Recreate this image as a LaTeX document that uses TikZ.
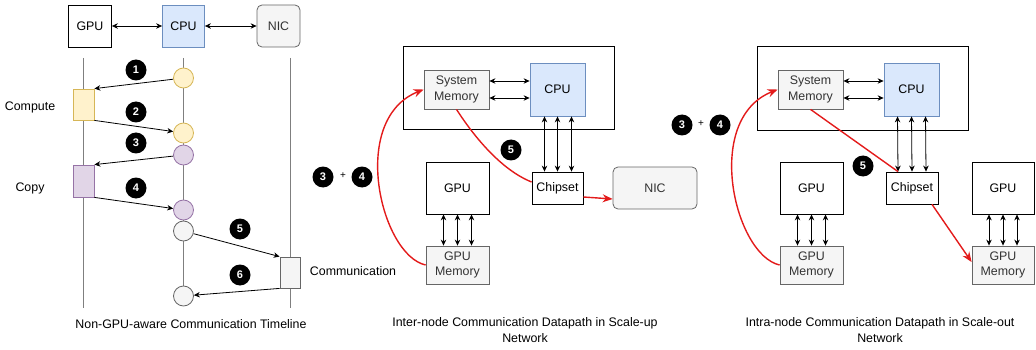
\documentclass[tikz,border=0pt]{standalone}
\usepackage{fontspec}
\setmainfont{Liberation Sans}
\usetikzlibrary{arrows.meta}
\definecolor{cpufill}{HTML}{DAE8FC}
\definecolor{cpuline}{HTML}{6C8EBF}
\definecolor{cmpfill}{HTML}{FFF2CC}
\definecolor{cmpline}{HTML}{D6B656}
\definecolor{cpyfill}{HTML}{E1D5E7}
\definecolor{cpyline}{HTML}{9673A6}
\definecolor{memfill}{HTML}{F5F5F5}
\definecolor{memline}{HTML}{666666}
\definecolor{memtext}{HTML}{333333}
\definecolor{lifecol}{HTML}{7F7F7F}
\definecolor{datapath}{HTML}{E31B1B}

\begin{document}
\begin{tikzpicture}[x=1pt, y=-1pt, line width=0.8pt,
    every node/.style = {font=\fontsize{12.4}{15.5}\selectfont, align=center},
    box/.style = {draw, rectangle, inner sep=0pt},
    cpu/.style = {box, draw=cpuline, fill=cpufill},
    mem/.style = {box, draw=memline, fill=memfill, text=memtext},
    nic/.style = {mem, rounded corners=5pt},
    cmp/.style = {draw=cmpline, fill=cmpfill},
    cpy/.style = {draw=cpyline, fill=cpyfill},
    com/.style = {draw=memline, fill=memfill},
    ev/.style = {draw, circle, minimum size=20pt, inner sep=0pt},
    lane/.style = {draw=lifecol},
    badge/.style = {circle, fill=black, text=white, minimum size=21pt, inner sep=0pt, font=\fontsize{11}{11}\selectfont\bfseries},
    link/.style = {{Stealth[length=6pt,width=5.5pt]}-{Stealth[length=6pt,width=5.5pt]}},
    msg/.style = {-{Stealth[length=6pt,width=5.5pt]}},
    redline/.style = {draw=datapath, line width=1.4pt, -{Stealth[length=10pt,width=8pt]}},
]
    \useasboundingbox (0,0) rectangle (1036,350);

    \node[box, minimum width=43pt, minimum height=42pt] (gpu) at (90,26) {GPU};
    \node[cpu, minimum width=42pt, minimum height=42pt] (cpu) at (183.5,26) {CPU};
    \node[nic, minimum width=43pt, minimum height=42pt] (nic) at (278.5,26) {NIC};
    \draw[link] (gpu) -- (cpu);
    \draw[link] (cpu) -- (nic);

    \coordinate (gpuTop) at (83.5,58);
    \coordinate (gpuEnd) at (83.5,308);
    \coordinate (cpuTop) at (183.5,58);
    \coordinate (cpuEnd) at (183.5,296);
    \coordinate (nicTop) at (290,58);
    \coordinate (nicEnd) at (290,308);
    \draw[lane] (gpuTop) -- (gpuEnd);
    \draw[lane] (cpuTop) -- (cpuEnd);
    \draw[lane] (nicTop) -- (nicEnd);

    \node[ev, cmp] (ev1) at (183.5,78) {};
    \node[ev, cmp] (ev2) at (183.5,133) {};
    \node[ev, cpy] (ev3) at (183.5,155) {};
    \node[ev, cpy] (ev4) at (183.5,210) {};
    \node[ev, com] (ev5) at (183.5,231) {};
    \node[ev, com] (ev6) at (183.5,296) {};
    \node[box, cmp, minimum width=21pt, minimum height=31pt] (compute) at (83.5,104.5) {};
    \node[box, cpy, minimum width=21pt, minimum height=32pt] (copy) at (83.5,181) {};
    \node[box, com, minimum width=20pt, minimum height=31pt] (comm) at (290,272.5) {};
    \node (computeLbl) at (30,107) {Compute};
    \node (copyLbl) at (30,188) {Copy};
    \node (commLbl) at (353,271) {Communication};

    \draw[msg] (ev1) -- (compute.north east);
    \draw[msg] (compute.south east) -- (ev2);
    \draw[msg] (ev3) -- (copy.north east);
    \draw[msg] (copy.south east) -- (ev4);
    \draw[msg] (ev5) -- (comm.north west);
    \draw[msg] (comm.south west) -- (ev6);

    \node[badge] (b1) at (136,70) {1};
    \node[badge] (b2) at (136,112) {2};
    \node[badge] (b3) at (136,143) {3};
    \node[badge] (b4) at (136,188) {4};
    \node[badge] (b5) at (240,229) {5};
    \node[badge] (b6) at (240,275) {6};
    \node (timelineCap) at (191,324) {Non-GPU-aware Communication Timeline};

    \node[box, line width=1pt, minimum width=211pt, minimum height=83pt] (hostA) at (508.5,88.5) {};
    \node[mem, minimum width=65pt, minimum height=39pt] (sysMemA) at (456.5,89.5) {System\\Memory};
    \node[cpu, minimum width=55pt, minimum height=53pt] (cpuA) at (557.5,89.5) {CPU};
    \node[box, fill=white, minimum width=51pt, minimum height=32pt] (chipA) at (557.5,188) {Chipset};
    \node[nic, minimum width=84pt, minimum height=42pt] (nicA) at (655,188) {NIC};
    \node[box, minimum width=63pt, minimum height=52pt] (gpuA) at (457.5,188) {GPU};
    \node[mem, minimum width=63pt, minimum height=38pt] (gpuMemA) at (457.5,265) {GPU\\Memory};
    \foreach \dy in {-8.5,8.5}
        \draw[link] ([yshift=\dy pt]sysMemA.east) -- ([yshift=\dy pt]cpuA.west);
    \foreach \dx in {-13,0,14}
        \draw[link] ([xshift=\dx pt]cpuA.south) -- ([xshift=\dx pt]chipA.north);
    \foreach \dx in {-14,0,14}
        \draw[link] ([xshift=\dx pt]gpuA.south) -- ([xshift=\dx pt]gpuMemA.north);
    \draw[redline] (gpuMemA.west) .. controls +(-45,-10) and +(-75,30) .. (sysMemA.west);
    \draw[redline, -] (sysMemA.south) .. controls +(18,28) and +(-30,-12) .. ([yshift=6pt]chipA.west);
    \draw[redline] ([yshift=-9pt]chipA.east) -- ([yshift=-11pt]nicA.west);
    \node[badge] (b5A) at (511,150) {5};
    \node[badge] (b3A) at (323,177) {3};
    \node (plusA) at (343,176) {\fontsize{10}{10}\selectfont +};
    \node[badge] (b4A) at (362,177) {4};
    \node (scaleUpCap) at (525,330) {Inter-node Communication Datapath in Scale-up\\Network};

    \node[box, line width=1pt, minimum width=211pt, minimum height=84pt] (hostB) at (862.5,89) {};
    \node[mem, minimum width=65pt, minimum height=39pt] (sysMemB) at (810.5,89.5) {System\\Memory};
    \node[cpu, minimum width=55pt, minimum height=53pt] (cpuB) at (911.5,89.5) {CPU};
    \node[box, fill=white, minimum width=52pt, minimum height=32pt] (chipB) at (912,188) {Chipset};
    \node[box, minimum width=63pt, minimum height=52pt] (gpuB) at (811.5,188) {GPU};
    \node[mem, minimum width=63pt, minimum height=38pt] (gpuMemB) at (811.5,265) {GPU\\Memory};
    \node[box, minimum width=62pt, minimum height=52pt] (gpuC) at (1003,188) {GPU};
    \node[mem, minimum width=62pt, minimum height=38pt] (gpuMemC) at (1003,265) {GPU\\Memory};
    \foreach \dy in {-8.5,8.5}
        \draw[link] ([yshift=\dy pt]sysMemB.east) -- ([yshift=\dy pt]cpuB.west);
    \foreach \dx in {-14,0,14}
        \draw[link] ([xshift=\dx pt]cpuB.south) -- ([xshift=\dx pt]chipB.north);
    \foreach \dx in {-14,0,14}
        \draw[link] ([xshift=\dx pt]gpuB.south) -- ([xshift=\dx pt]gpuMemB.north);
    \foreach \dx in {-14,0,14}
        \draw[link] ([xshift=\dx pt]gpuC.south) -- ([xshift=\dx pt]gpuMemC.north);
    \draw[redline] (gpuMemB.west) .. controls +(-45,-10) and +(-75,30) .. (sysMemB.west);
    \draw[redline, -] (sysMemB.south) -- ([xshift=-14pt]chipB.north);
    \draw[redline] ([xshift=20pt]chipB.south) -- ([yshift=3pt]gpuMemC.west);
    \node[badge] (b5B) at (863,166) {5};
    \node[badge] (b3B) at (682,125) {3};
    \node (plusB) at (701,124) {\fontsize{10}{10}\selectfont +};
    \node[badge] (b4B) at (720,125) {4};
    \node (scaleOutCap) at (880,330) {Intra-node Communication Datapath in Scale-out\\Network};
\end{tikzpicture}
\end{document}
